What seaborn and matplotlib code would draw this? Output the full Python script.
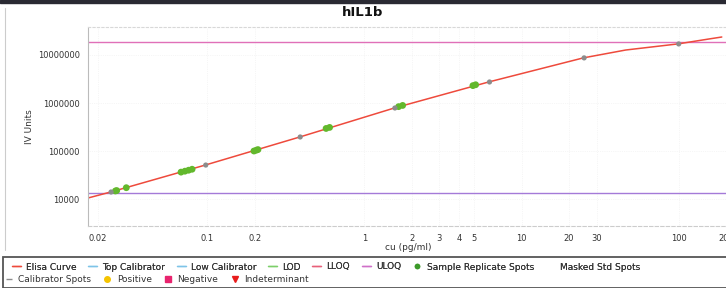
import numpy as np
import pandas as pd
import seaborn as sns
import matplotlib.pyplot as plt
from matplotlib.lines import Line2D
from matplotlib.patches import Rectangle

# DATA
curve_conc = [0.0174, 0.0243, 0.0971, 0.388, 1.55, 6.17, 24.7, 46.0, 98.6, 155.0, 188.0]
curve_iv = [10500, 14000, 51000, 196000, 787000, 2740000, 8700000, 12700000, 17000000, 21500000, 23700000]

calib_conc = [0.0244, 0.0977, 0.39, 1.5625, 6.25, 25.0, 100.0]
calib_iv = [14000, 51000, 196000, 787000, 2740000, 8700000, 17000000]

sample_conc = [0.026, 0.0265, 0.0305, 0.068, 0.072, 0.076, 0.080, 0.198, 0.205, 0.21, 0.57, 0.60, 1.65, 1.75, 4.9, 5.1]
sample_iv = [14700, 15000, 17200, 36300, 38000, 39800, 41700, 100000, 104000, 107000, 295000, 310000, 840000, 890000, 2300000, 2400000]

uloq = 18700000
lloq = 13300

xticks = [0.02, 0.1, 0.2, 1, 2, 3, 4, 5, 10, 20, 30, 100, 200]
xtick_labels = ['0.02', '0.1', '0.2', '1', '2', '3', '4', '5', '10', '20', '30', '100', '200']
yticks = [10000, 100000, 1000000, 10000000]
ytick_labels = ['10000', '100000', '1000000', '10000000']

# STYLE
sns.set_style('white')
plt.rcParams['font.family'] = ['DejaVu Sans']

W, H = 726, 288
fig = plt.figure(figsize=(W / 100, H / 100), dpi=100)
ax = fig.add_axes([88 / W, 62 / H, (726 - 88) / W, 199 / H])

curve = pd.DataFrame({'conc': curve_conc, 'iv': curve_iv})
calib = pd.DataFrame({'conc': calib_conc, 'iv': calib_iv})
sample = pd.DataFrame({'conc': sample_conc, 'iv': sample_iv})

ax.axhline(uloq, color='#e070b8', lw=1.0, zorder=1)
ax.axhline(lloq, color='#a47ad8', lw=1.0, zorder=1)

sns.lineplot(data=curve, x='conc', y='iv', ax=ax, color='#ee4a3c', lw=1.1, zorder=2)
sns.scatterplot(data=sample, x='conc', y='iv', ax=ax, color='#62b82c', s=24,
                edgecolor='none', zorder=3)
sns.scatterplot(data=calib, x='conc', y='iv', ax=ax, color='#8c8c8c', s=14,
                marker='o', edgecolor='none', zorder=4)

ax.set_xscale('log')
ax.set_yscale('log')
ax.set_xlim(0.0174, 188)
ax.set_ylim(2740, 3.83e7)

ax.set_xticks(xticks)
ax.set_xticklabels(xtick_labels)
ax.set_xticks([], minor=True)
ax.set_yticks(yticks)
ax.set_yticklabels(ytick_labels)
ax.set_yticks([], minor=True)
ax.tick_params(axis='both', labelsize=6, colors='#333333', length=2, width=0.6, pad=4)
ax.tick_params(axis='x', length=0, pad=5.5)
ax.tick_params(axis='y', color='#aaaaaa')

ax.grid(True, which='major', color='#eeeeee', lw=0.5, ls=':')

ax.spines['right'].set_visible(False)
ax.spines['left'].set_color('#bbbbbb')
ax.spines['left'].set_linewidth(0.8)
ax.spines['bottom'].set_color('#cccccc')
ax.spines['bottom'].set_linestyle((0, (3, 2)))
ax.spines['bottom'].set_linewidth(0.8)
ax.spines['top'].set_color('#d8d8d8')
ax.spines['top'].set_linestyle((0, (2, 2)))
ax.spines['top'].set_linewidth(0.8)

ax.set_xlabel('cu (pg/ml)', fontsize=6.5, color='#333333')
ax.xaxis.set_label_coords((408 - 88) / (726 - 88), -0.085)
ax.set_ylabel('IV Units', fontsize=6.5, color='#333333')
ax.yaxis.set_label_coords(-(88 - 34) / (726 - 88), 0.5)

fig.text(363 / W, 1 - 13 / H, 'hIL1b', ha='center', va='center',
         fontsize=9.5, fontweight='bold', color='#111111')

# frame bits of the screenshot
fig.patches.append(Rectangle((0, 1 - 3 / H), 1, 3 / H, transform=fig.transFigure,
                             color='#2a2a33', zorder=0))
fig.add_artist(Line2D([5 / W, 5 / W], [1 - 250 / H, 1 - 8 / H], transform=fig.transFigure,
                      color='#cccccc', lw=0.8))
fig.patches.append(Rectangle((3 / W, 0), 1, 31 / H, transform=fig.transFigure,
                             fill=False, edgecolor='#555555', lw=1.3, zorder=0))

# LEGEND
row1 = [
    Line2D([], [], color='#ee4a3c', lw=1),
    Line2D([], [], color='#7ec4e8', lw=1),
    Line2D([], [], color='#7ec4e8', lw=1),
    Line2D([], [], color='#7ccf6a', lw=1),
    Line2D([], [], color='#e8607a', lw=1),
    Line2D([], [], color='#d070c8', lw=1),
    Line2D([], [], color='#3c9a2a', marker='o', ls='none', ms=3),
    Line2D([], [], color='none', lw=0),
]
row1_labels = ['Elisa Curve', 'Top Calibrator', 'Low Calibrator', 'LOD', 'LLOQ', 'ULOQ',
               'Sample Replicate Spots', 'Masked Std Spots']
row2 = [
    Line2D([], [], color='#8c8c8c', marker='_', ls='none', ms=4),
    Line2D([], [], color='#f5c400', marker='o', ls='none', ms=4),
    Line2D([], [], color='#e8246e', marker='s', ls='none', ms=4),
    Line2D([], [], color='#e81c1c', marker='v', ls='none', ms=4),
]
row2_labels = ['Calibrator Spots', 'Positive', 'Negative', 'Indeterminant']

leg_kw = dict(frameon=False, fontsize=6.5, handlelength=1.0, handletextpad=0.55,
              columnspacing=1.3, borderpad=0, borderaxespad=0, labelcolor='#333333')
leg1 = fig.legend(row1, row1_labels, ncol=8, loc='center left',
                  bbox_to_anchor=(12 / W, 1 - 267 / H), **leg_kw)
fig.add_artist(leg1)
leg2 = fig.legend(row2, row2_labels, ncol=4, loc='center left',
                  bbox_to_anchor=(4 / W, 1 - 280 / H), **leg_kw)

fig.savefig('out.png', dpi=100)
